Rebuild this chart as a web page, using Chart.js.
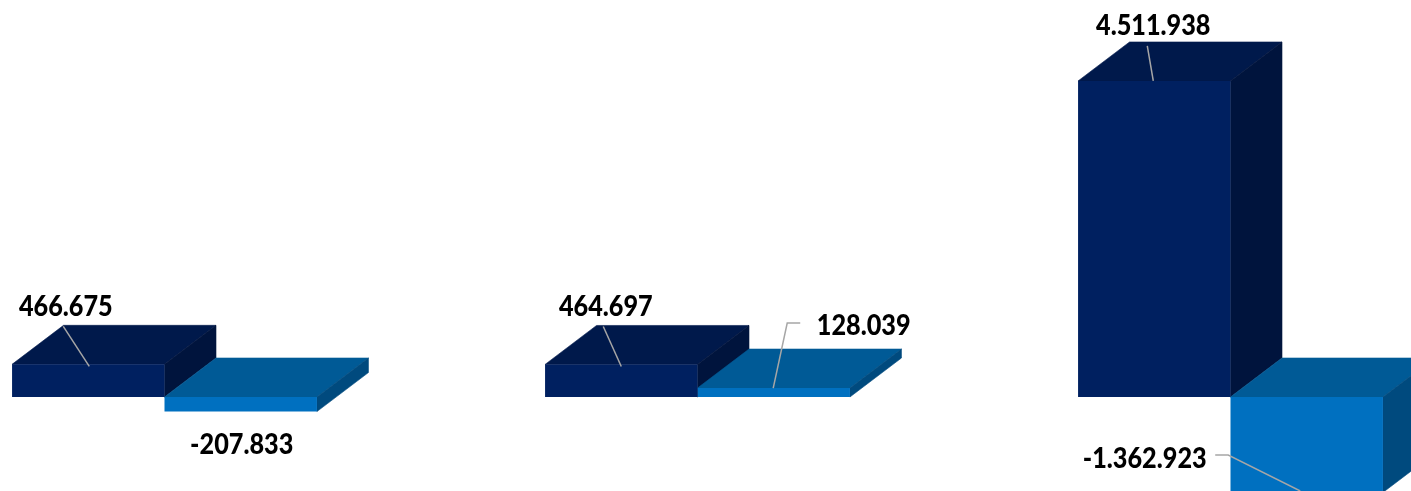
<!DOCTYPE html>
<html>
<head>
<meta charset="utf-8">
<title>Chart</title>
<script src="https://cdn.jsdelivr.net/npm/chart.js@4"></script>
<style>
    html, body { margin: 0; padding: 0; background: #fff; overflow: hidden; }
    #wrap { position: relative; width: 1411px; height: 491px; overflow: hidden; }
    /* category bands are 533px wide, so the canvas starts left of the window */
    #chart { position: absolute; left: -102px; top: 0; filter: blur(0.6px); }
</style>
</head>
<body>
<div id="wrap"><canvas id="chart" width="1599" height="491"></canvas></div>
<script>
const categories = ['Grupo 1', 'Grupo 2', 'Grupo 3'];
const seriesDark = [466675, 464697, 4511938];
const seriesBlue = [-207833, 128039, -1362923];

// label centre relative to the bar's value point
const darkLabelOffsets = [[-22.5, -58], [-15.5, -58], [-1, -55]];
const blueLabelOffsets = [[1, 33.5], [90, -62], [-162, -33.5]];

// leader lines relative to the bar's value point, empty where there is none
const darkLeaders = [
    [[-25, -38], [1, 2]],
    [[-18, -38], [0, 2]],
    [[-7, -35], [-1, 0]]
];
const blueLeaders = [
    [],
    [[26.5, -65], [13.5, -65], [-0.5, 0]],
    [[-91.5, -37.5], [-78.5, -37.5], [-6.5, -1.5]]
];

const depthX = 51.5;
const depthY = 39;
const darkFaces = { front: '#002060', top: '#00194b', side: '#00143d' };
const blueFaces = { front: '#0070c0', top: '#005a96', side: '#004a7e' };

function fillFace(ctx, color, pts) {
    ctx.fillStyle = color;
    ctx.strokeStyle = color;
    ctx.lineWidth = 0.6;
    ctx.beginPath();
    pts.forEach((p, i) => i === 0 ? ctx.moveTo(p[0], p[1]) : ctx.lineTo(p[0], p[1]));
    ctx.closePath();
    ctx.fill();
    ctx.stroke();
}

// top and side faces of every bar, taken from the bar elements
const depthPlugin = {
    id: 'depthFaces',
    beforeDatasetsDraw(chart) {
        const ctx = chart.ctx;
        [darkFaces, blueFaces].forEach((faces, d) => {
            chart.getDatasetMeta(d).data.forEach(bar => {
                const left = bar.x - bar.width / 2;
                const right = bar.x + bar.width / 2;
                const upper = Math.min(bar.y, bar.base);
                const lower = Math.max(bar.y, bar.base);
                fillFace(ctx, faces.top, [
                    [left, upper], [left + depthX, upper - depthY],
                    [right + depthX, upper - depthY], [right, upper]
                ]);
                fillFace(ctx, faces.side, [
                    [right, upper], [right + depthX, upper - depthY],
                    [right + depthX, lower - depthY], [right, lower]
                ]);
            });
        });
    }
};

// value labels and their grey leader lines
const labelPlugin = {
    id: 'valueLabels',
    afterDatasetsDraw(chart) {
        const ctx = chart.ctx;
        const offsets = [darkLabelOffsets, blueLabelOffsets];
        const leaders = [darkLeaders, blueLeaders];
        const values = [seriesDark, seriesBlue];
        ctx.save();
        [0, 1].forEach(d => {
            chart.getDatasetMeta(d).data.forEach((bar, i) => {
                const line = leaders[d][i];
                if (line.length) {
                    ctx.strokeStyle = '#a6a6a6';
                    ctx.lineWidth = 1.5;
                    ctx.beginPath();
                    line.forEach((p, k) => {
                        if (k === 0) ctx.moveTo(bar.x + p[0], bar.y + p[1]);
                        else ctx.lineTo(bar.x + p[0], bar.y + p[1]);
                    });
                    ctx.stroke();
                }
                const text = values[d][i].toLocaleString('de-DE');
                ctx.font = '900 29px Lato';
                ctx.fillStyle = '#000';
                ctx.textAlign = 'center';
                ctx.textBaseline = 'middle';
                const w = ctx.measureText(text).width;
                ctx.fillText(text, bar.x + offsets[d][i][0], bar.y + offsets[d][i][1], w * 0.87);
            });
        });
        ctx.restore();
    }
};

new Chart(document.getElementById('chart').getContext('2d'), {
    type: 'bar',
    data: {
        labels: categories,
        datasets: [
            { label: 'Serie 1', data: seriesDark, backgroundColor: darkFaces.front },
            { label: 'Serie 2', data: seriesBlue, backgroundColor: blueFaces.front }
        ]
    },
    options: {
        responsive: false,
        animation: false,
        categoryPercentage: 0.572,
        barPercentage: 1,
        layout: { padding: 0 },
        plugins: { legend: { display: false }, title: { display: false }, tooltip: { enabled: false } },
        scales: {
            x: { display: false },
            y: { display: false, min: -1342000, max: 5668000 }
        }
    },
    plugins: [depthPlugin, labelPlugin]
});
</script>
</body>
</html>
